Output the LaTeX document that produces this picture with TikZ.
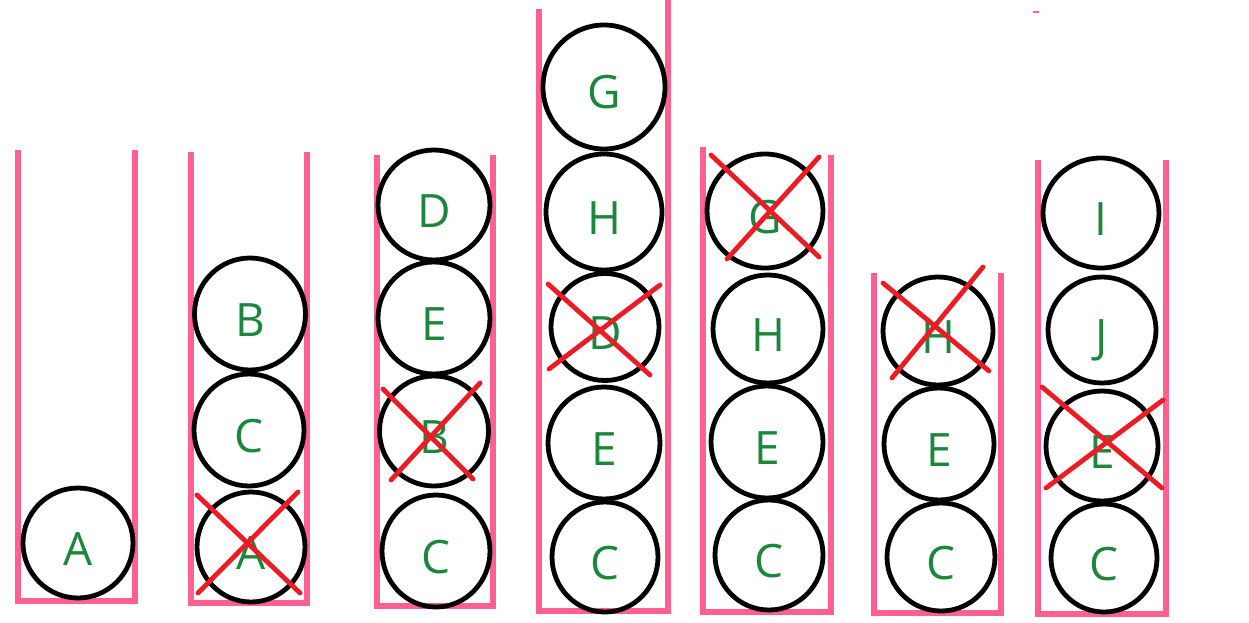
\documentclass[tikz,border=0pt]{standalone}
\usepackage{fontspec}
\newfontfamily\ballfont{Open Sans}
\usetikzlibrary{shapes.geometric}
\definecolor{tubepink}{RGB}{255,96,146}
\definecolor{lettergreen}{RGB}{28,134,60}
\definecolor{crossred}{RGB}{236,28,36}
\tikzset{
  tube/.style={draw=tubepink, line width=5.5pt, line join=miter},
  ball/.style={draw=black, line width=4.8pt, ellipse, inner sep=0pt, text=lettergreen,
    font=\ballfont\fontsize{46}{46}\selectfont, text height=44pt, text depth=0pt},
  cross/.style={draw=crossred, line width=4.8pt, line cap=round},
}
\newcommand{\bl}[6]{\node[ball, minimum width=#4pt, minimum height=#5pt] (#1) at (#2,#3) {#6};}
\begin{document}
\begin{tikzpicture}[x=1pt,y=-1pt]
\useasboundingbox (0,0) rectangle (1249,623);
% tubes
\draw[tube] (18,150) -- (18,601) -- (135,601) -- (135,150);
\draw[tube] (191,152) -- (191,603) -- (307,603) -- (307,152);
\draw[tube] (377,155) -- (377,606) -- (493,606) -- (493,155);
\draw[tube] (539,9) -- (539,611) -- (668,611) -- (668,0);
\draw[tube] (703,147) -- (703,612) -- (831,612) -- (831,155);
\draw[tube] (874,273) -- (874,613) -- (1001,613) -- (1001,273);
\draw[tube] (1038,160) -- (1038,614) -- (1166,614) -- (1166,160);
\draw[draw=tubepink, line width=2pt] (1033,12) -- (1039,12);
% tube 1
\bl{a1}{78}{543}{110}{110}{A}
% tube 2
\bl{b2}{250}{314}{111}{112}{B}
\bl{c2}{249}{430}{110}{112}{C}
\bl{a2}{251}{547}{108}{110}{A}
% tube 3
\bl{d3}{434}{205}{112}{110}{D}
\bl{e3}{434}{318}{112}{112}{E}
\bl{b3}{434}{431}{109}{110}{B}
\bl{c3}{436}{551}{108}{112}{C}
% tube 4
\bl{g4}{604}{87}{122}{124}{G}
\bl{h4}{604}{212}{116}{116}{H}
\bl{d4}{605}{327}{108}{107}{D}
\bl{e4}{604}{443}{112}{112}{E}
\bl{c4}{605}{557}{106}{110}{C}
% tube 5
\bl{g5}{765}{211}{116}{114}{G}
\bl{h5}{768}{329}{110}{108}{H}
\bl{e5}{767}{442}{112}{112}{E}
\bl{c5}{769}{555}{108}{110}{C}
% tube 6
\bl{h6}{938}{331}{110}{108}{H}
\bl{e6}{939}{444}{110}{112}{E}
\bl{c6}{941}{557}{108}{108}{C}
% tube 7
\bl{i7}{1101}{213}{116}{110}{I}
\bl{j7}{1102}{330}{108}{106}{J}
\bl{e7}{1102}{446}{112}{110}{E}
\bl{c7}{1104}{558}{106}{108}{C}
% crosses
\draw[cross] (197,495) -- (300,593);
\draw[cross] (298,492) -- (198,593);
\draw[cross] (383,389) -- (473,479);
\draw[cross] (480,383) -- (391,480);
\draw[cross] (548,284) -- (650,375);
\draw[cross] (660,285) -- (549,369);
\draw[cross] (711,155) -- (819,257);
\draw[cross] (819,157) -- (727,259);
\draw[cross] (883,283) -- (989,371);
\draw[cross] (983,267) -- (892,378);
\draw[cross] (1042,387) -- (1162,488);
\draw[cross] (1163,400) -- (1046,488);
\end{tikzpicture}
\end{document}
